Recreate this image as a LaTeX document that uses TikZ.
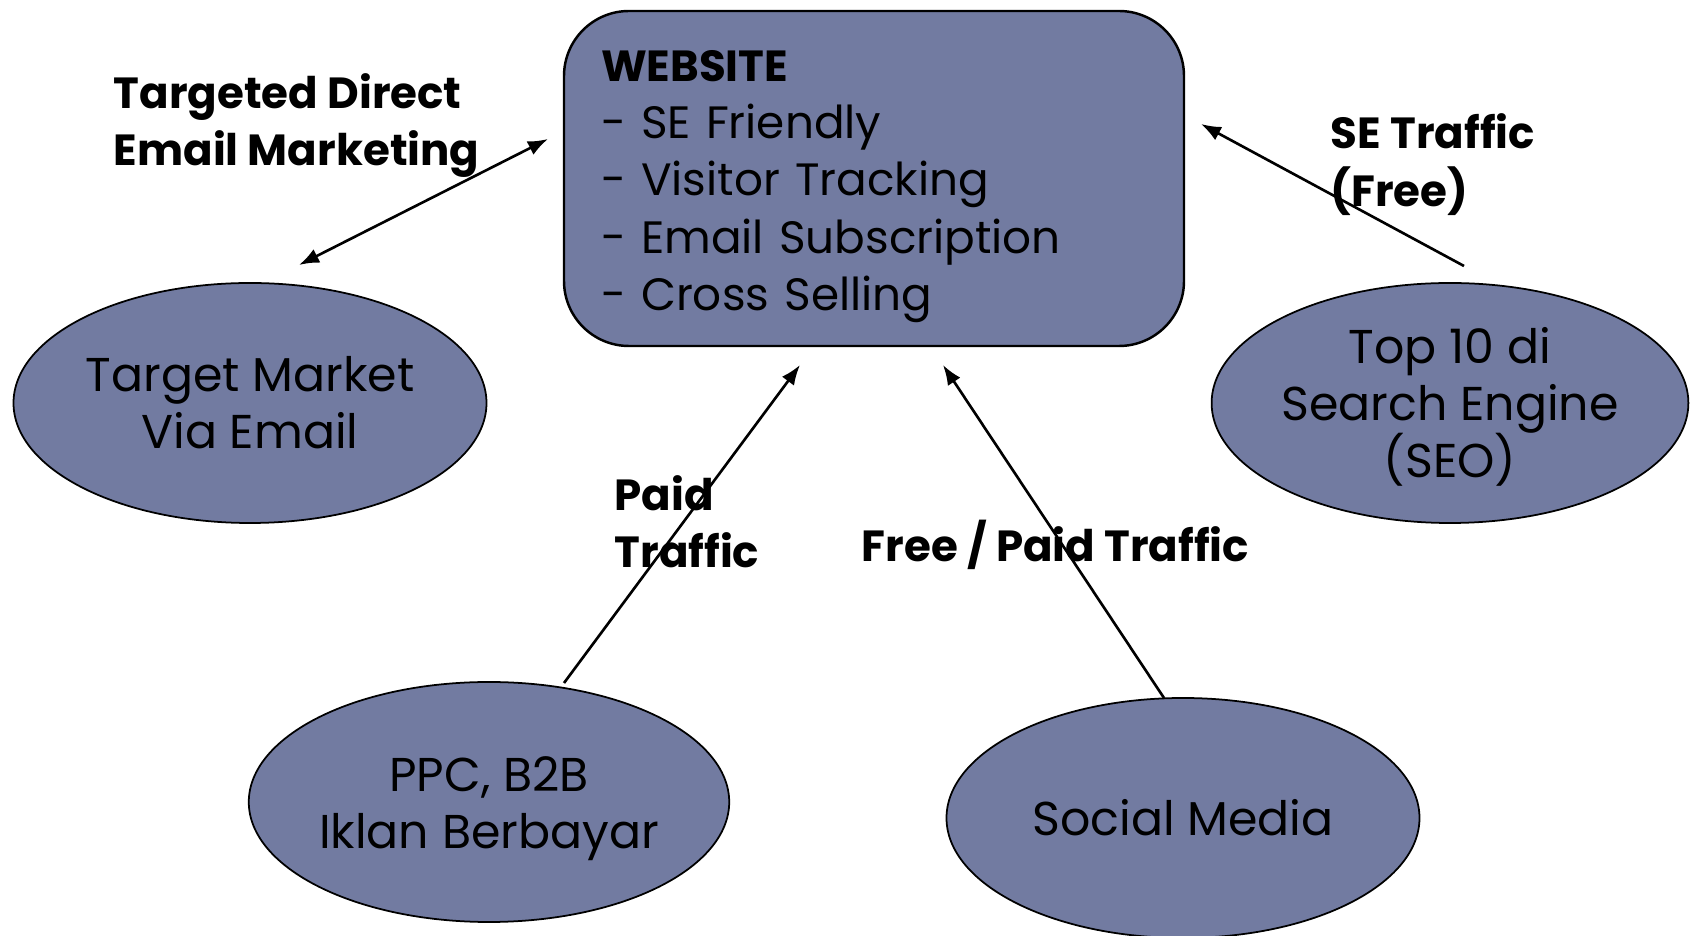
\documentclass[tikz,border=0pt]{standalone}
\usepackage{fontspec}
\setmainfont{Poppins}
\usetikzlibrary{shapes.geometric}
\usetikzlibrary{arrows.meta}
\usetikzlibrary{positioning}
\definecolor{slateblue}{RGB}{114,123,161}
\newcommand{\bodyfont}{\fontsize{13.5}{16.3}\selectfont}
\newcommand{\sitefont}{\fontsize{12.9}{16.3}\selectfont}
\newcommand{\tagfont}{\fontsize{12.4}{16.3}\selectfont}
\tikzset{
  bubble/.style={ellipse, draw=black, line width=0.5pt, fill=slateblue, inner sep=0pt,
    minimum width=4.73cm, minimum height=2.4cm, align=center, font=\bodyfont},
  sitebox/.style={rectangle, rounded corners=0.65cm, draw=black, line width=0.7pt,
    fill=slateblue, minimum width=6.2cm, minimum height=3.35cm,
    text width=5.46cm, inner xsep=0.37cm, align=left, font=\sitefont},
  tag/.style={anchor=west, align=left, inner sep=0pt, font=\bfseries\tagfont},
  tip/.tip={Latex[length=0.2cm,width=0.15cm]},
  link/.style={line width=0.75pt, -tip}
}

\begin{document}
\begin{tikzpicture}
  \useasboundingbox (0,0) rectangle (16.94,-9.36);
  \node[sitebox] (site) at (8.74,-1.785)
    {\rule{0pt}{13.3pt}\textbf{\tagfont WEBSITE}\\- SE Friendly\\- Visitor Tracking\\- Email Subscription\\- Cross Selling};
  \node[bubble] (mail) at (2.50,-4.03) {Target Market\\Via Email};
  \node[bubble] (seo) at (14.50,-4.03) {\rule{0pt}{12.4pt}Top 10 di\\Search Engine\\(SEO)};
  \node[bubble] (ppc) at (4.89,-8.02) {\rule{0pt}{13.8pt}PPC, B2B\\Iklan Berbayar};
  \node[bubble] (social) at (11.83,-8.18) {Social Media};

  \node[tag] (mailtag) at (1.13,-1.258) {Targeted Direct\\Email Marketing};
  \node[tag] (seotag) at (13.30,-1.645) {SE Traffic\\(Free)};
  \node[tag] (ppctag) at (6.14,-5.215) {Paid\\Traffic};
  \node[tag] (socialtag) at (8.61,-5.45) {Free / Paid Traffic};

  \coordinate (mailend) at (2.99,-2.65);
  \coordinate (mailtip) at (5.48,-1.39);
  \coordinate (seoend) at (14.64,-2.66);
  \coordinate (seotip) at (12.01,-1.24);
  \coordinate (ppcend) at (5.64,-6.83);
  \coordinate (ppctip) at (8.00,-3.65);
  \coordinate (socialend) at (11.64,-6.98);
  \coordinate (socialtip) at (9.43,-3.65);

  \draw[link, tip-tip] (mailend) -- (mailtip);
  \draw[link] (seoend) -- (seotip);
  \draw[link] (ppcend) -- (ppctip);
  \draw[link] (socialend) -- (socialtip);
\end{tikzpicture}
\end{document}
